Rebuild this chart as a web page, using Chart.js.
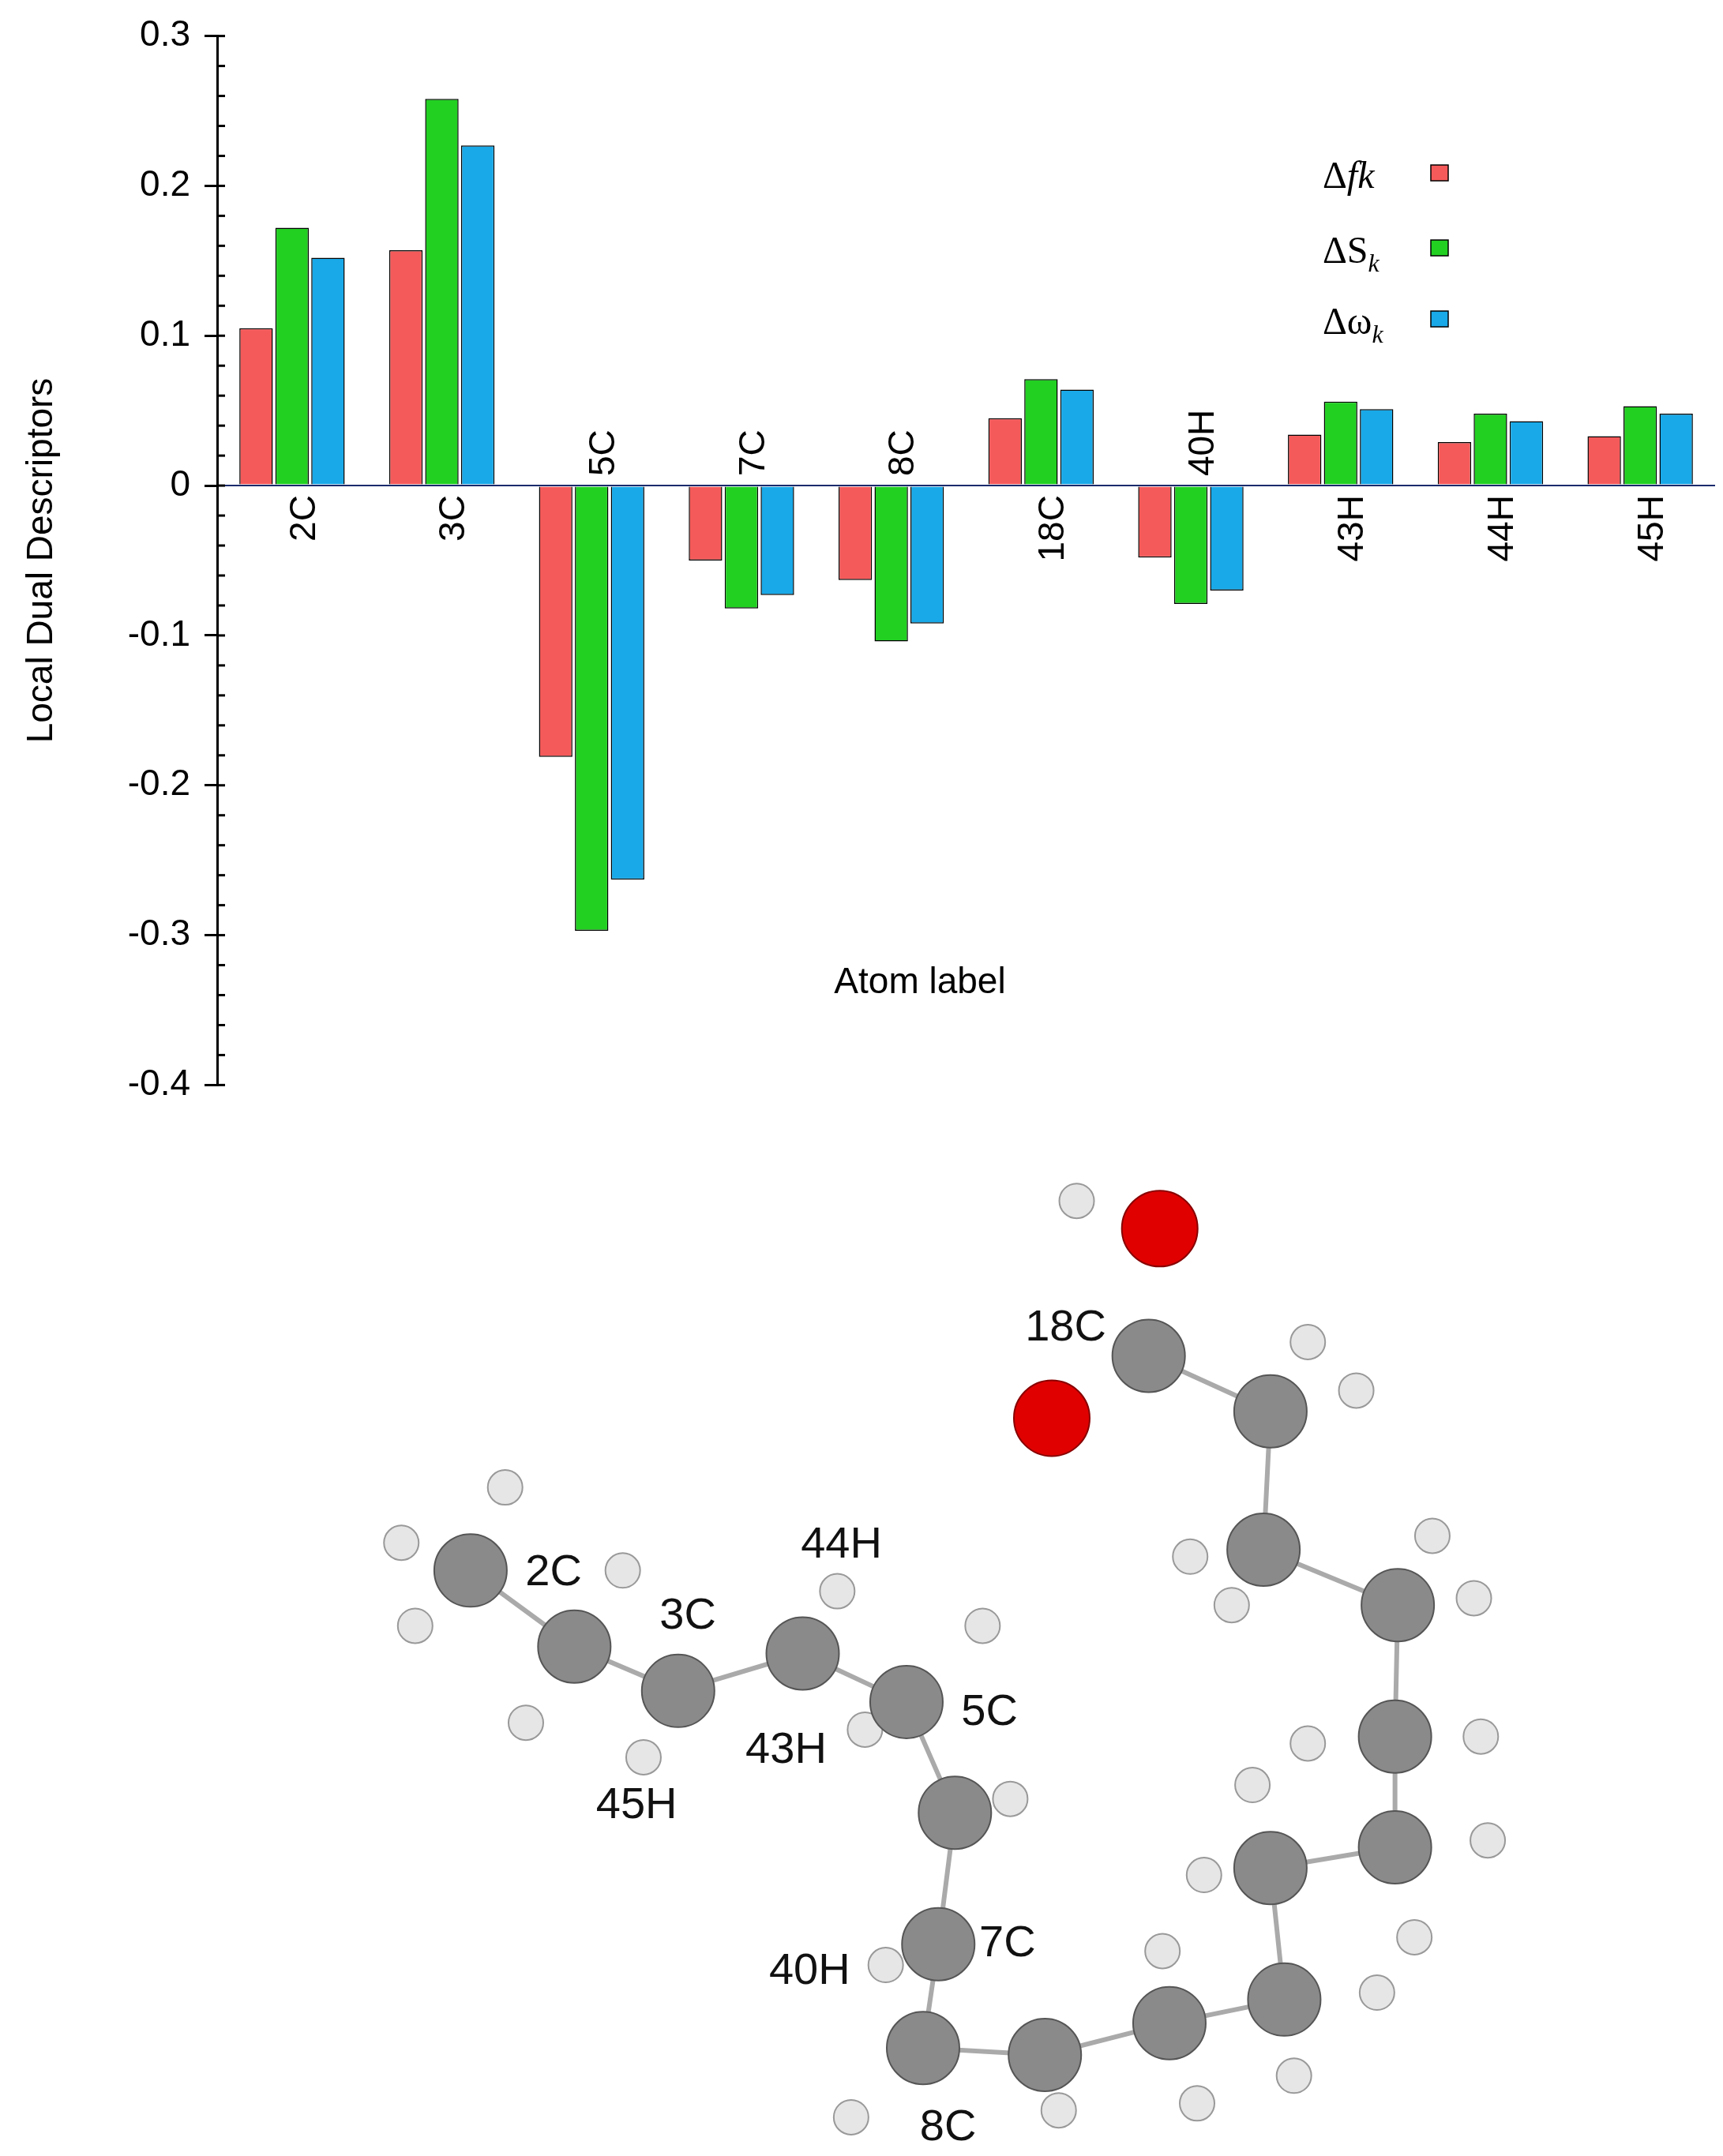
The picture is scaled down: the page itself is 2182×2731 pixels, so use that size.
<!DOCTYPE html>
<html><head><meta charset="utf-8">
<script src="https://cdn.jsdelivr.net/npm/chart.js@4"></script>
<style>body{margin:0;background:#fff;width:2182px;height:2731px;position:relative;overflow:hidden}
#c1w{position:absolute;left:0;top:0;width:2182px;height:1420px}
#c2w{position:absolute;left:0;top:1437px;width:2182px;height:1294px}</style>
</head><body>
<div id="c1w"><canvas id="c1"></canvas></div>
<div id="c2w"><canvas id="c2"></canvas></div>
<script>
const categories=['2C','3C','5C','7C','8C','18C','40H','43H','44H','45H'];
const dFk=[0.105,0.157,-0.181,-0.050,-0.063,0.045,-0.048,0.034,0.029,0.033];
const dSk=[0.172,0.258,-0.297,-0.082,-0.104,0.071,-0.079,0.056,0.048,0.053];
const dWk=[0.152,0.227,-0.263,-0.073,-0.092,0.064,-0.070,0.051,0.043,0.048];
const yTicks=[0.3,0.2,0.1,0,-0.1,-0.2,-0.3,-0.4];
// molecule (approximate, picture coordinates)
const carbons=[[340,1135],[415,1190],[490,1222],[580,1195],[655,1230],[690,1310],[678,1405],[667,1480],[755,1485],[845,1462],[928,1445],[918,1350],[1008,1335],[1008,1255],[1010,1160],[913,1120],[918,1020],[830,980]];
const oxygens=[[838,888],[760,1025]];
const hydrogens=[[290,1115],[365,1075],[300,1175],[450,1135],[380,1245],[465,1270],[605,1150],[710,1175],[625,1250],[730,1300],[640,1420],[615,1530],[765,1525],[840,1410],[865,1520],[935,1500],[995,1440],[870,1355],[905,1290],[1022,1400],[1075,1330],[945,1260],[1070,1255],[1035,1110],[1065,1155],[890,1160],[860,1125],[945,970],[980,1005],[778,868]];
const atomLabels=[['18C',770,960],['2C',400,1137],['3C',497,1168],['44H',608,1117],['5C',715,1238],['43H',568,1265],['45H',460,1305],['7C',728,1405],['40H',585,1425],['8C',685,1538]];

const F='Liberation Sans, Arial, sans-serif';
const overlay={id:'ov',afterDatasetsDraw(ch){
 const {ctx,scales:{x,y},chartArea:a}=ch;const y0=y.getPixelForValue(0);
 ctx.save();ctx.strokeStyle='#1a2a6c';ctx.lineWidth=2;ctx.beginPath();ctx.moveTo(a.left,y0);ctx.lineTo(a.right,y0);ctx.stroke();
 ctx.fillStyle='#000';ctx.font='46px '+F;
 categories.forEach((c,i)=>{const px=x.getPixelForValue(i);ctx.save();ctx.translate(px+16,dFk[i]>=0?y0+12:y0-12);ctx.rotate(-Math.PI/2);
  ctx.textAlign=dFk[i]>=0?'right':'left';ctx.textBaseline='middle';ctx.fillText(c,0,0);ctx.restore();});
 ctx.textAlign='center';ctx.textBaseline='middle';ctx.fillText('Atom label',1165,1245);
 ctx.strokeStyle='#000';ctx.lineWidth=3;
 for(let v=-0.4;v<=0.3001;v+=0.02){const py=y.getPixelForValue(v);ctx.beginPath();ctx.moveTo(a.left,py);ctx.lineTo(a.left+10,py);ctx.stroke();}
 const leg=[['Δ','fk',null,'#f55a5a',225],['ΔS','','k','#22d022',320],['Δω','','k','#19a9e8',410]];
 leg.forEach(([a1,it,sub,col,py])=>{ctx.textAlign='left';ctx.font='48px "Liberation Serif", serif';let px=1675;ctx.fillText(a1,px,py);px+=ctx.measureText(a1).width;
  if(it){ctx.font='italic 48px "Liberation Serif", serif';ctx.fillText(it,px,py);px+=ctx.measureText(it).width;}
  if(sub){ctx.font='italic 32px "Liberation Serif", serif';ctx.fillText(sub,px,py+16);px+=ctx.measureText(sub).width;}
  ctx.fillStyle=col;ctx.strokeStyle='#000';ctx.lineWidth=1.5;ctx.fillRect(1812,py-16,22,20);ctx.strokeRect(1812,py-16,22,20);ctx.fillStyle='#000';});
 ctx.restore();}};
const mk=(l,d,c)=>({label:l,data:d,backgroundColor:c,borderColor:'#000',borderWidth:1.5,barPercentage:0.93,categoryPercentage:0.72});
new Chart(document.getElementById('c1'),{type:'bar',data:{labels:categories,datasets:[mk('Δfk',dFk,'#f55a5a'),mk('ΔSk',dSk,'#22d022'),mk('Δωk',dWk,'#19a9e8')]},
 options:{responsive:true,maintainAspectRatio:false,animation:false,layout:{padding:{left:22,right:10,top:40,bottom:40}},
 plugins:{legend:{display:false},tooltip:{enabled:false}},
 scales:{x:{display:false},
  y:{min:-0.4,max:0.3,afterBuildTicks(s){s.ticks=yTicks.map(v=>({value:v}));},
   ticks:{font:{size:46,family:F},color:'#000',padding:18,callback:v=>String(Math.round(v*10)/10)},
   grid:{drawOnChartArea:false,color:'#000',lineWidth:3,tickLength:16},border:{color:'#000',width:3},
   title:{display:true,text:'Local Dual Descriptors',font:{size:46,family:F},color:'#000',padding:{bottom:10}},
   afterFit(s){s.width=253;}}}},plugins:[overlay]});

const pts=a=>a.map(([x,y])=>({x,y}));
const labPlug={id:'lab',afterDatasetsDraw(ch){const {ctx,scales:{x,y}}=ch;ctx.save();ctx.fillStyle='#111';ctx.font='56px '+F;ctx.textAlign='center';ctx.textBaseline='middle';
 atomLabels.forEach(([t,px,py])=>ctx.fillText(t,x.getPixelForValue(px),y.getPixelForValue(py)));ctx.restore();}};
new Chart(document.getElementById('c2'),{type:'scatter',data:{datasets:[
 {data:pts(carbons),showLine:true,borderColor:'#aaa',borderWidth:6,pointRadius:0,order:3},
 {data:pts(hydrogens),pointRadius:22,backgroundColor:'#e6e6e6',borderColor:'#999',borderWidth:2,order:2},
 {data:pts(carbons),pointRadius:46,backgroundColor:'#8a8a8a',borderColor:'#555',borderWidth:2,order:1},
 {data:pts(oxygens),pointRadius:48,backgroundColor:'#e00000',borderColor:'#800',borderWidth:2,order:0}]},
 options:{responsive:true,maintainAspectRatio:false,animation:false,layout:{padding:0,autoPadding:false},plugins:{legend:{display:false},tooltip:{enabled:false}},
 scales:{x:{type:'linear',min:0,max:1245,display:false},y:{type:'linear',min:820,max:1558,reverse:true,display:false}}},plugins:[labPlug]});
</script></body></html>
